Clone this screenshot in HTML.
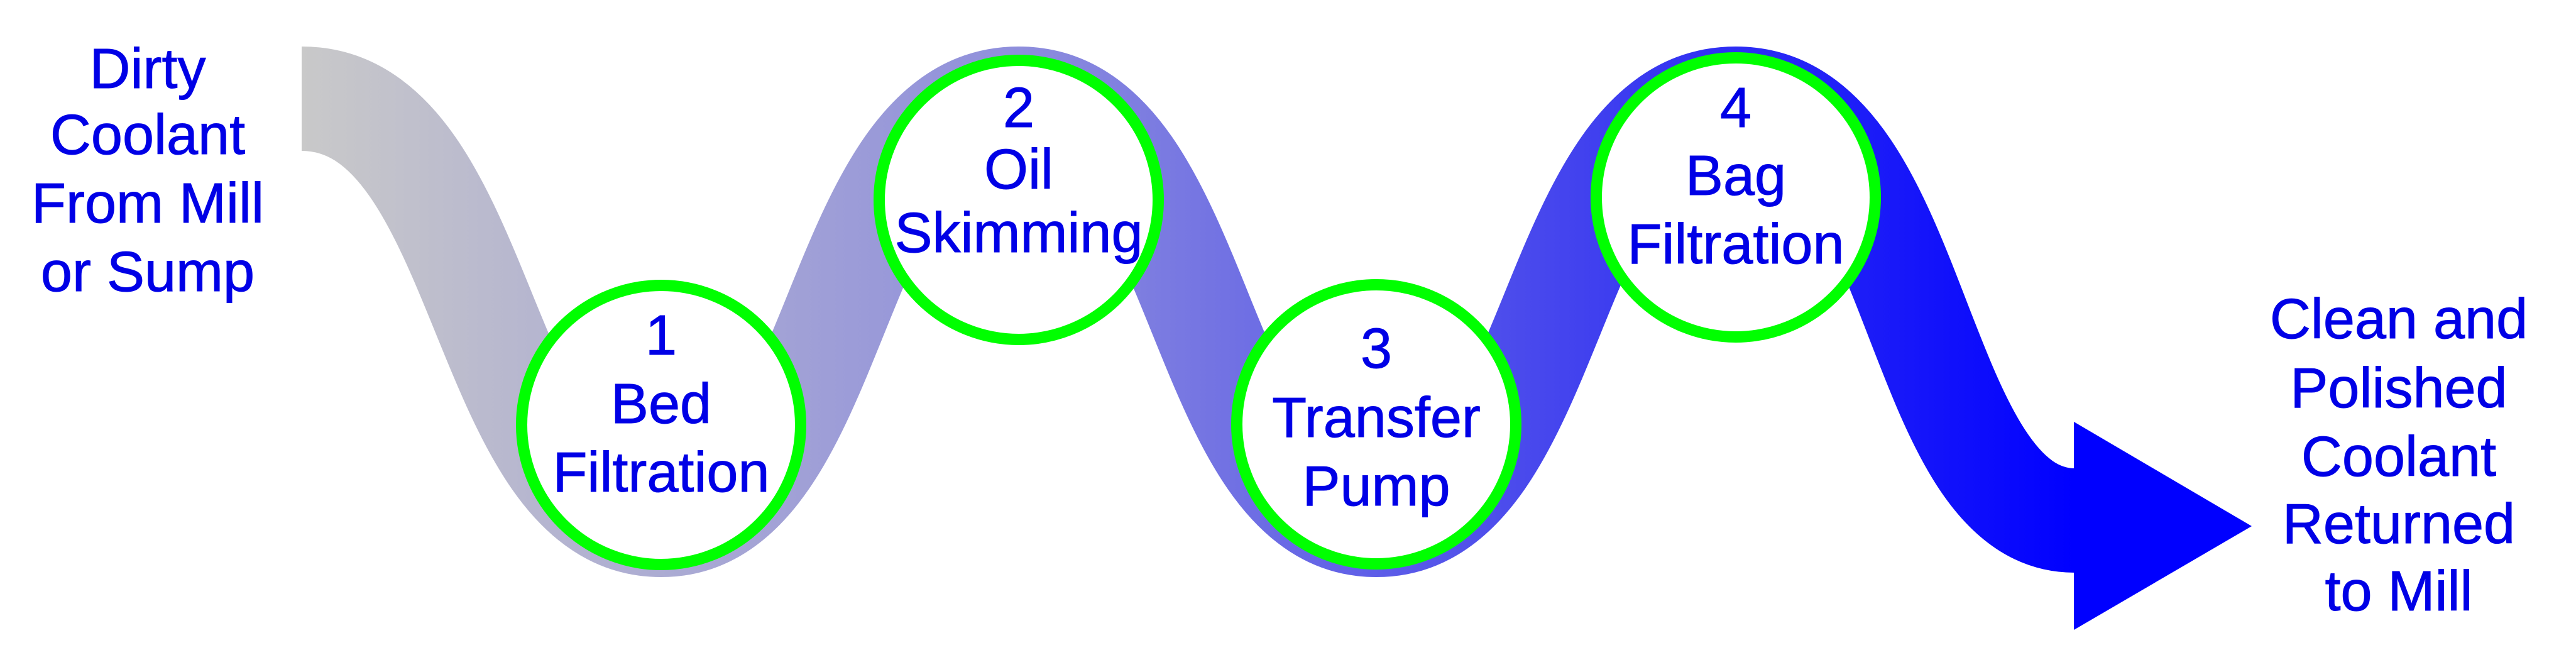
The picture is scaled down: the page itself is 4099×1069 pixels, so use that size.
<!DOCTYPE html>
<html><head><meta charset="utf-8"><style>
html,body{margin:0;padding:0;background:#fff;}
svg{display:block;}
text{font-family:"Liberation Sans",sans-serif;font-size:90px;fill:#0000e6;stroke:#0000e6;stroke-width:1px;text-anchor:middle;}
</style></head><body>
<svg width="4099" height="1069" viewBox="0 0 4099 1069" xmlns="http://www.w3.org/2000/svg">
<defs>
<linearGradient id="g" gradientUnits="userSpaceOnUse" x1="480" y1="0" x2="3301" y2="0">
<stop offset="0" stop-color="#c9c9c9"/>
<stop offset="0.4" stop-color="#8f8fdc"/>
<stop offset="0.75" stop-color="#3b3bf0"/>
<stop offset="1" stop-color="#0000ff"/>
</linearGradient>
</defs>
<path fill="none" stroke="url(#g)" stroke-width="166" stroke-linecap="butt" d="M480,157
C780,157 760,835 1052,835
C1340,835 1320,157 1621,157
C1920,157 1900,835 2190,835
C2480,835 2460,157 2762,157
C3060,157 3040,828 3302,828"/>
<path fill="#0000ff" d="M3300,671 L3583,837 L3300,1002 Z"/>
<g fill="#fff" stroke="#00ff00" stroke-width="18">
<circle cx="1052" cy="676" r="222"/>
<circle cx="1621" cy="318" r="222"/>
<circle cx="2190" cy="675" r="222"/>
<circle cx="2762" cy="314" r="222"/>
</g>
<text x="235" y="140">Dirty</text>
<text x="235" y="245">Coolant</text>
<text x="235" y="354">From Mill</text>
<text x="235" y="463">or Sump</text>
<text x="1052" y="564">1</text>
<text x="1052" y="673">Bed</text>
<text x="1052" y="782">Filtration</text>
<text x="1621" y="202">2</text>
<text x="1621" y="300">Oil</text>
<text x="1621" y="401">Skimming</text>
<text x="2190" y="585">3</text>
<text x="2190" y="695">Transfer</text>
<text x="2190" y="804">Pump</text>
<text x="2762" y="202">4</text>
<text x="2762" y="310">Bag</text>
<text x="2762" y="419">Filtration</text>
<text x="3817" y="538">Clean and</text>
<text x="3817" y="648">Polished</text>
<text x="3817" y="757">Coolant</text>
<text x="3817" y="864">Returned</text>
<text x="3817" y="971">to Mill</text>
</svg>
</body></html>
